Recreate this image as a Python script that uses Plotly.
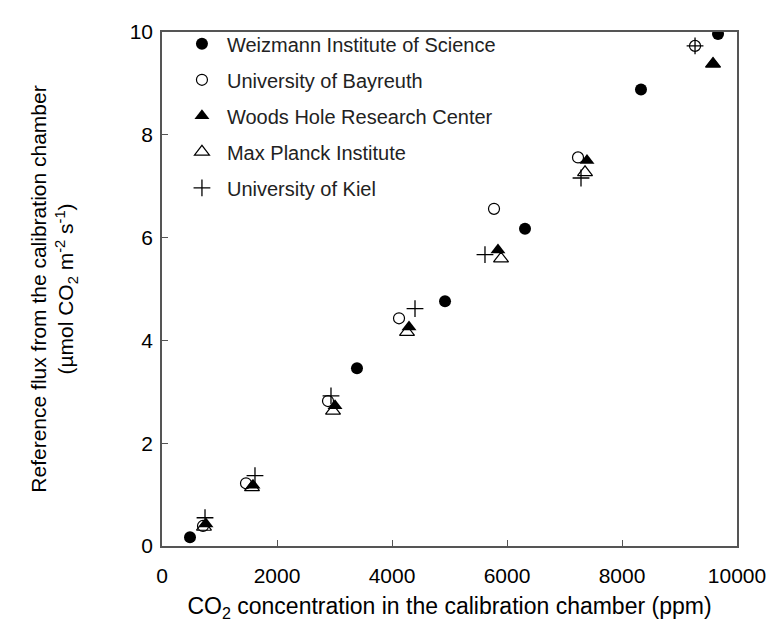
import plotly.graph_objects as go

# CO2 concentration (ppm) and reference flux (umol CO2 m-2 s-1) per lab
weiz_x = [487, 3391, 4922, 6313, 8330, 9670]
weiz_y = [0.17, 3.46, 4.76, 6.17, 8.88, 9.96]

bay_x = [713, 1461, 2887, 4122, 5774, 7235, 9270]
bay_y = [0.39, 1.22, 2.82, 4.43, 6.56, 7.56, 9.73]

whrc_x = [765, 1583, 3009, 4296, 5843, 7391, 9583]
whrc_y = [0.43, 1.18, 2.73, 4.26, 5.76, 7.50, 9.38]

mpi_x = [730, 1565, 2974, 4261, 5896, 7357, 9583]
mpi_y = [0.37, 1.14, 2.63, 4.16, 5.59, 7.27, 9.38]

kiel_x = [748, 1617, 2939, 4400, 5617, 7287, 9270]
kiel_y = [0.55, 1.37, 2.92, 4.62, 5.67, 7.16, 9.73]

x_ticks = [0, 2000, 4000, 6000, 8000, 10000]
x_ticklabels = ["0", "2000", "4000", "6000", "8000", "10000"]
y_ticks = [0, 2, 4, 6, 8, 10]

FONT = "Liberation Sans, Arial, sans-serif"

series = [
    ("Weizmann Institute of Science", weiz_x, weiz_y, dict(symbol="circle", size=12, color="black")),
    ("University of Bayreuth", bay_x, bay_y,
     dict(symbol="circle-open", size=11, color="black", line=dict(width=1.2, color="black"))),
    ("Woods Hole Research Center", whrc_x, whrc_y, dict(symbol="triangle-up", size=13, color="black")),
    ("Max Planck Institute", mpi_x, mpi_y,
     dict(symbol="triangle-up-open", size=13, color="black", line=dict(width=1.2, color="black"))),
    ("University of Kiel", kiel_x, kiel_y,
     dict(symbol="cross-thin-open", size=12, color="black", line=dict(width=1.3, color="black"))),
]

fig = go.Figure()
for i, (name, xs, ys, marker) in enumerate(series):
    fig.add_trace(go.Scatter(
        x=xs, y=ys, mode="markers", name=name,
        marker=marker, legendgroup=f"g{i}",
    ))

axis_common = dict(
    showline=True, linecolor="#555555", linewidth=1.5, mirror=True,
    ticks="inside", ticklen=6, tickcolor="#555555", tickwidth=1.3,
    showgrid=False, zeroline=False,
    tickfont=dict(family=FONT, size=21, color="black"),
)

fig.update_xaxes(
    range=[0, 10000], tickvals=x_ticks, ticktext=x_ticklabels,
    ticklabelstandoff=10,
    title=dict(text="CO<sub>2</sub> concentration in the calibration chamber (ppm)",
               font=dict(family=FONT, size=23, color="black"), standoff=12),
    **axis_common,
)
fig.update_yaxes(
    range=[0, 10], tickvals=y_ticks, ticklabelstandoff=3,
    title=dict(text="Reference flux from the calibration chamber<br>(µmol CO<sub>2</sub> m<sup>-2</sup> s<sup>-1</sup>)",
               font=dict(family=FONT, size=21, color="black"), standoff=50),
    **axis_common,
)

fig.update_layout(
    width=780, height=625,
    margin=dict(l=154, r=51, t=21, b=87),
    plot_bgcolor="white", paper_bgcolor="white",
    font=dict(family=FONT, color="black"),
    legend=dict(
        x=0.026, y=1.015, xanchor="left", yanchor="top",
        bgcolor="rgba(0,0,0,0)", traceorder="grouped", tracegroupgap=7,
        itemwidth=40,
        font=dict(family=FONT, size=20, color="#222222"),
    ),
)

fig.write_html("out.html")
